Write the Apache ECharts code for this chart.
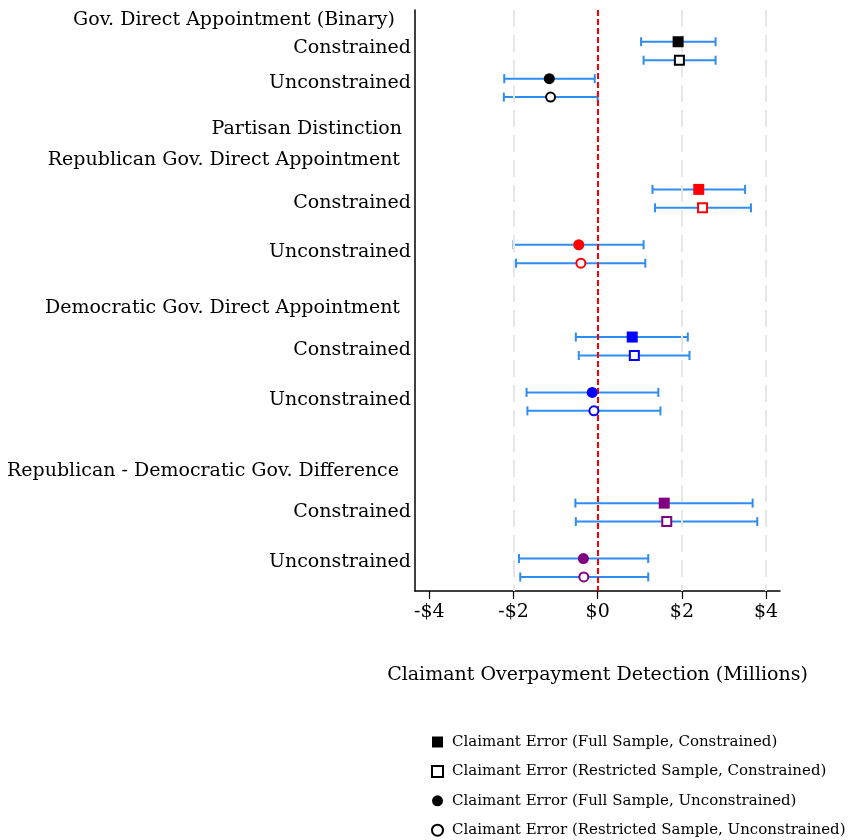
<!DOCTYPE html>
<html>
<head>
<meta charset="utf-8">
<script src="https://cdn.jsdelivr.net/npm/echarts@6/dist/echarts.min.js"></script>
<style>
  html, body { margin: 0; padding: 0; background: #fff; }
  #chart { width: 849px; height: 840px; }
</style>
</head>
<body>
<div id="chart"></div>
<script>
// Coefficient estimates (millions of dollars) with 95% confidence bounds.
// Order of entries in each array: Binary, Republican, Democratic, Rep - Dem difference.
const groupColors = ['#000000', '#ff0000', '#0000ff', '#800080'];

const estFullCon = [1.91, 2.40, 0.82, 1.58];
const loFullCon  = [1.03, 1.30, -0.52, -0.53];
const hiFullCon  = [2.80, 3.50, 2.14, 3.68];

const estRestCon = [1.94, 2.49, 0.87, 1.64];
const loRestCon  = [1.09, 1.36, -0.45, -0.52];
const hiRestCon  = [2.80, 3.64, 2.18, 3.79];

const estFullUnc = [-1.15, -0.45, -0.13, -0.34];
const loFullUnc  = [-2.22, -2.00, -1.69, -1.87];
const hiFullUnc  = [-0.07, 1.09, 1.44, 1.20];

const estRestUnc = [-1.12, -0.40, -0.09, -0.33];
const loRestUnc  = [-2.23, -1.94, -1.67, -1.84];
const hiRestUnc  = [0.00, 1.13, 1.49, 1.20];

// Row slots on the vertical scale (0 = first coefficient row).
const rowFullCon = [0, 8, 16, 25];
const rowRestCon = [1, 9, 17, 26];
const rowFullUnc = [2, 11, 19, 28];
const rowRestUnc = [3, 12, 20, 29];

// Group headings and sub-labels with their row slots.
const headerTexts = [
  'Gov. Direct Appointment (Binary)',
  'Partisan Distinction',
  'Republican Gov. Direct Appointment',
  'Democratic Gov. Direct Appointment',
  'Republican - Democratic Gov. Difference'
];
const headerRows = [-1.17, 4.73, 6.41, 14.42, 23.25];
const headerGaps = [20, 13, 15, 15, 16];
const conRows = [0.34, 8.74, 16.7, 25.5];
const uncRows = [2.24, 11.4, 19.4, 28.2];

const xTicks = [-4, -2, 0, 2, 4];
const gridXs = [-2, 2, 4];

const seriesNames = [
  'Claimant Error (Full Sample, Constrained)',
  'Claimant Error (Restricted Sample, Constrained)',
  'Claimant Error (Full Sample, Unconstrained)',
  'Claimant Error (Restricted Sample, Unconstrained)'
];

const FONT = 'DejaVu Serif';
const X_MIN = -4.34, X_MAX = 4.33;
const Y_MIN = -1.72, Y_MAX = 29.76;
const BAR_COLOR = '#2f8cf0';

function pointData(est, rows, hollow) {
  return est.map((v, i) => ({
    value: [v, rows[i]],
    itemStyle: hollow
      ? { color: '#ffffff', borderColor: groupColors[i], borderWidth: 2, opacity: 1 }
      : { color: groupColors[i], opacity: 1 }
  }));
}

function barData(lo, hi, rows) {
  return lo.map((v, i) => [v, hi[i], rows[i]]);
}

const allBars = []
  .concat(barData(loFullCon, hiFullCon, rowFullCon))
  .concat(barData(loRestCon, hiRestCon, rowRestCon))
  .concat(barData(loFullUnc, hiFullUnc, rowFullUnc))
  .concat(barData(loRestUnc, hiRestUnc, rowRestUnc));

function renderBar(params, api) {
  const lo = api.coord([api.value(0), api.value(2)]);
  const hi = api.coord([api.value(1), api.value(2)]);
  const cap = 4.5;
  const style = { stroke: BAR_COLOR, lineWidth: 2, fill: null };
  return {
    type: 'group',
    children: [
      { type: 'line', shape: { x1: lo[0], y1: lo[1], x2: hi[0], y2: hi[1] }, style: style },
      { type: 'line', shape: { x1: lo[0], y1: lo[1] - cap, x2: lo[0], y2: lo[1] + cap }, style: style },
      { type: 'line', shape: { x1: hi[0], y1: hi[1] - cap, x2: hi[0], y2: hi[1] + cap }, style: style }
    ]
  };
}

// Left-hand text labels anchored at the axis edge.
const labelData = []
  .concat(headerTexts.map((t, i) => ({ value: [X_MIN, headerRows[i]], name: t, label: { distance: headerGaps[i] } })))
  .concat(conRows.map(r => ({ value: [X_MIN, r], name: 'Constrained' })))
  .concat(uncRows.map(r => ({ value: [X_MIN, r], name: 'Unconstrained' })));

const chart = echarts.init(document.getElementById('chart'), null, { renderer: 'canvas' });

chart.setOption({
  animation: false,
  backgroundColor: '#ffffff',
  textStyle: { fontFamily: FONT },
  grid: { left: 415, right: 69, top: 10, bottom: 249, containLabel: false },
  xAxis: {
    type: 'value',
    min: X_MIN,
    max: X_MAX,
    name: 'Claimant Overpayment Detection (Millions)',
    nameLocation: 'middle',
    nameGap: 75,
    nameTextStyle: { fontFamily: FONT, fontSize: 19, color: '#000' },
    axisLine: { show: true, onZero: false, lineStyle: { color: '#000', width: 1.5 } },
    axisTick: { show: true, length: 8, customValues: xTicks, lineStyle: { color: '#000', width: 1.2 } },
    axisLabel: {
      customValues: xTicks,
      margin: 12,
      fontFamily: FONT,
      fontSize: 19,
      color: '#000',
      formatter: v => (v < 0 ? '-$' + Math.abs(v) : '$' + v)
    },
    splitLine: { show: false }
  },
  yAxis: {
    type: 'value',
    inverse: true,
    min: Y_MIN,
    max: Y_MAX,
    axisLine: { show: true, onZero: false, lineStyle: { color: '#000', width: 1.5 } },
    axisTick: { show: false },
    axisLabel: { show: false },
    splitLine: { show: false }
  },
  legend: {
    orient: 'vertical',
    left: 426,
    top: 728,
    height: 120,
    itemWidth: 11,
    itemHeight: 11,
    itemGap: 11.4,
    data: seriesNames,
    textStyle: { fontFamily: FONT, fontSize: 15, color: '#000', lineHeight: 18, padding: [0, 0, 0, 4] },
    selectedMode: false
  },
  series: [
    {
      // row labels plus background reference lines
      type: 'scatter',
      name: 'labels',
      silent: true,
      clip: false,
      z: 1,
      symbolSize: 0,
      itemStyle: { opacity: 1 },
      data: labelData,
      label: {
        show: true,
        position: 'left',
        distance: 4,
        formatter: p => p.name,
        fontFamily: FONT,
        fontSize: 19,
        color: '#000'
      },
      markLine: {
        silent: true,
        symbol: 'none',
        label: { show: false },
        animation: false,
        lineStyle: { color: '#e6e6e6', width: 2, type: [17, 8], opacity: 1 },
        data: gridXs.map(x => ({ xAxis: x }))
      }
    },
    {
      type: 'custom',
      name: 'ci',
      silent: true,
      z: 2,
      renderItem: renderBar,
      encode: { x: [0, 1], y: 2 },
      data: allBars
    },
    {
      type: 'line',
      name: 'zero',
      silent: true,
      z: 3,
      data: [],
      markLine: {
        silent: true,
        symbol: 'none',
        label: { show: false },
        animation: false,
        lineStyle: { color: '#ff0000', width: 2, type: [6, 3], opacity: 1 },
        data: [{ xAxis: 0 }]
      }
    },
    {
      type: 'scatter', name: seriesNames[0], z: 5, symbol: 'rect', symbolSize: 11,
      itemStyle: { color: '#000', opacity: 1 }, data: pointData(estFullCon, rowFullCon, false)
    },
    {
      type: 'scatter', name: seriesNames[1], z: 5, symbol: 'rect', symbolSize: 9,
      itemStyle: { color: '#ffffff', borderColor: '#000', borderWidth: 2, opacity: 1 }, data: pointData(estRestCon, rowRestCon, true)
    },
    {
      type: 'scatter', name: seriesNames[2], z: 5, symbol: 'circle', symbolSize: 11,
      itemStyle: { color: '#000', opacity: 1 }, data: pointData(estFullUnc, rowFullUnc, false)
    },
    {
      type: 'scatter', name: seriesNames[3], z: 5, symbol: 'circle', symbolSize: 9,
      itemStyle: { color: '#ffffff', borderColor: '#000', borderWidth: 2, opacity: 1 }, data: pointData(estRestUnc, rowRestUnc, true)
    }
  ]
});
</script>
</body>
</html>
